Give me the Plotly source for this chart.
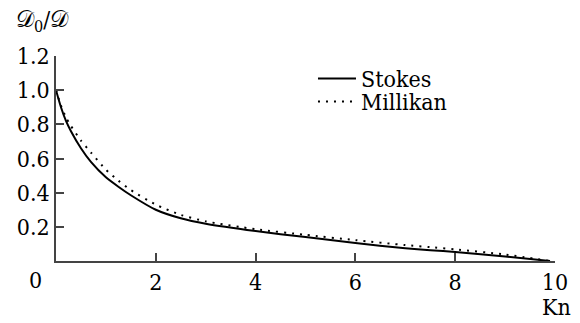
import plotly.graph_objects as go

# Knudsen number grid
kn = [0, 0.1, 0.2, 0.3, 0.5, 0.7, 1.0, 1.25, 1.5, 2.0, 2.5, 3.0, 4.0, 5.0, 6.0, 7.0, 7.5, 8.0, 9.0, 9.9]
# Relative diffusion coefficient D0/D
stokes = [1.0, 0.90, 0.82, 0.76, 0.66, 0.58, 0.49, 0.435, 0.385, 0.30, 0.25, 0.218, 0.175, 0.14, 0.105, 0.075, 0.063, 0.053, 0.027, 0.0]
millikan = [1.0, 0.91, 0.84, 0.79, 0.705, 0.635, 0.535, 0.47, 0.415, 0.33, 0.27, 0.232, 0.186, 0.153, 0.122, 0.093, 0.081, 0.068, 0.038, 0.0]

x_ticks = [2, 4, 6, 8, 10]
y_ticks = [0.2, 0.4, 0.6, 0.8, 1.0, 1.2]
y_ticktext = ["0.2", "0.4", "0.6", "0.8", "1.0", "1.2"]

FONT = "DejaVu Serif Condensed, DejaVu Serif"
SIZE = 23
AXIS = "#444"

fig = go.Figure()
fig.add_trace(go.Scatter(x=kn, y=stokes, mode="lines", name="Stokes", legend="legend",
                         line=dict(color="black", width=2, shape="spline", smoothing=0.6)))
fig.add_trace(go.Scatter(x=kn, y=millikan, mode="lines", name="Millikan", legend="legend2",
                         line=dict(color="black", width=2, dash="2px,6px",
                                   shape="spline", smoothing=0.6)))

legend_style = dict(xanchor="left", yanchor="middle", bgcolor="rgba(0,0,0,0)",
                    font=dict(family=FONT, size=SIZE), itemwidth=38)

fig.update_layout(
    width=580, height=323,
    margin=dict(l=56, r=13, t=56, b=62),
    paper_bgcolor="white", plot_bgcolor="white",
    font=dict(family=FONT, size=SIZE, color="black"),
    showlegend=True,
    legend=dict(x=0.515, y=0.890, **legend_style),
    legend2=dict(x=0.515, y=0.778, **legend_style),
    xaxis=dict(range=[0, 10], tickvals=x_ticks, ticks="inside", ticklen=8,
               tickwidth=1.5, tickcolor=AXIS, showline=True, linecolor=AXIS,
               linewidth=1.5, showgrid=False, zeroline=False,
               ticklabeloverflow="allow",
               tickfont=dict(family=FONT, size=SIZE)),
    yaxis=dict(range=[0, 1.2], tickvals=y_ticks, ticktext=y_ticktext,
               ticks="inside", ticklen=8, tickwidth=1.5, tickcolor=AXIS,
               showline=True, linecolor=AXIS, linewidth=1.5,
               showgrid=False, zeroline=False,
               tickfont=dict(family=FONT, size=SIZE)),
    annotations=[
        dict(text="0", x=0, y=0, xref="paper", yref="paper", xanchor="right",
             yanchor="top", xshift=-12, yshift=-4, showarrow=False,
             font=dict(family=FONT, size=SIZE)),
        dict(text="Kn", x=0.985, y=0, xref="paper", yref="paper", xanchor="center",
             yanchor="top", xshift=9, yshift=-31, showarrow=False,
             font=dict(family=FONT, size=SIZE)),
        dict(text="𝒟<sub>0</sub>/𝒟", x=0, y=1, xref="paper", yref="paper",
             xanchor="left", yanchor="bottom", xshift=-42, yshift=18,
             showarrow=False, font=dict(family=FONT, size=SIZE)),
    ],
)

fig.write_html("out.html")
